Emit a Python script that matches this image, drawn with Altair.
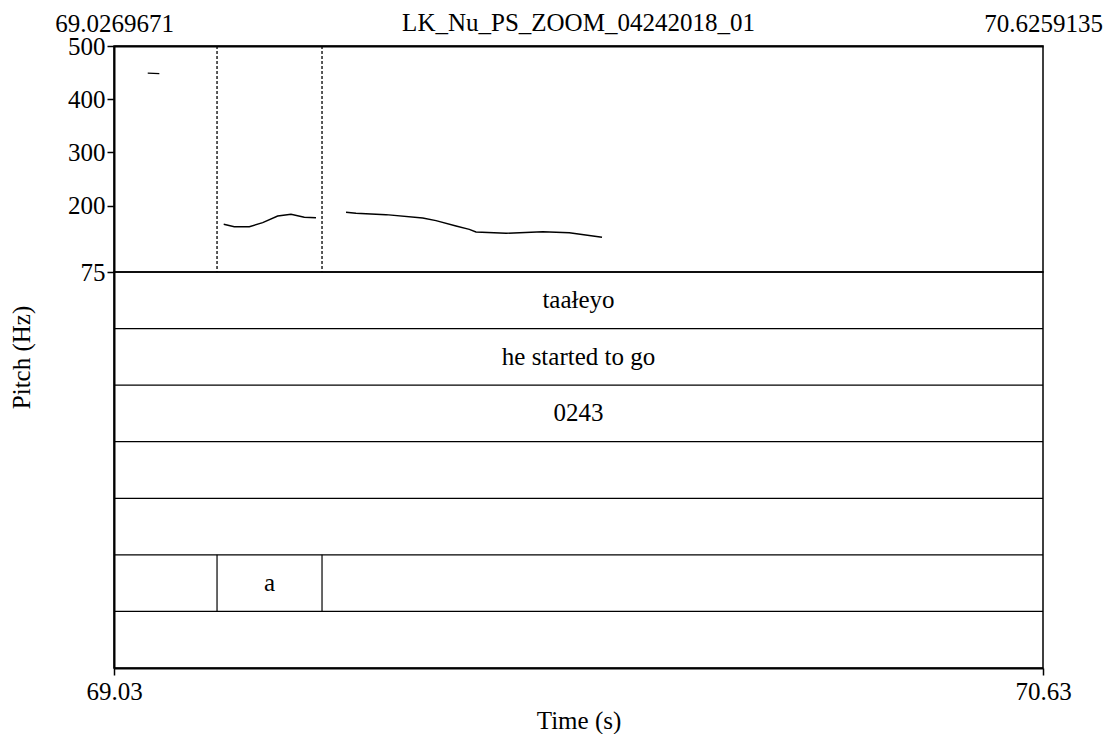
import altair as alt
import pandas as pd

FONT = "Liberation Serif"
FS = 25

T_START = 69.0269671
T_END = 70.6259135
TITLE = "LK_Nu_PS_ZOOM_04242018_01"

# Pitch contour (three voiced stretches)
seg_id = [1, 1,
          2, 2, 2, 2, 2, 2, 2, 2,
          3, 3, 3, 3, 3, 3, 3, 3, 3, 3, 3, 3]
pitch_time = [69.0850, 69.1050,
              69.2158, 69.2340, 69.2599, 69.2829, 69.3087, 69.3316, 69.3545, 69.3746,
              69.4263, 69.4435, 69.4951, 69.5583, 69.5812, 69.6156, 69.6385, 69.6500,
              69.7017, 69.7648, 69.8106, 69.8669]
pitch_hz = [449, 448,
            164.7, 160.2, 160.2, 167.7, 180.3, 183.5, 177.9, 177.1,
            187.3, 185.4, 182.8, 176.6, 171.5, 161.5, 155.3, 150.2,
            147.8, 150.8, 148.9, 140.3]

# Interval boundaries of the "a" interval
boundary_times = [69.2043, 69.3850]

# TextGrid tiers (7 tiers, top to bottom)
n_tiers = 7
tier_index = [0, 1, 2, 5, 5, 5]
tier_start = [T_START, T_START, T_START, T_START, 69.2043, 69.3850]
tier_end = [T_END, T_END, T_END, 69.2043, 69.3850, T_END]
tier_text = ["taałeyo", "he started to go", "0243", "", "a", ""]

pitch_df = pd.DataFrame({"seg": seg_id, "t": pitch_time, "hz": pitch_hz})
bound_df = pd.DataFrame({"t": boundary_times})
iv_df = pd.DataFrame({"tier": tier_index, "start": tier_start, "end": tier_end, "label": tier_text})
iv_df["mid"] = (iv_df["start"] + iv_df["end"]) / 2
iv_df["ymid"] = iv_df["tier"] + 0.5
iv_df["y2"] = iv_df["tier"] + 1
inner_df = iv_df[iv_df["start"] > T_START].copy()
lines_df = pd.DataFrame({"y": list(range(1, n_tiers))})

W = 929
H_PITCH = 226
H_TIERS = 396

xscale = alt.Scale(domain=[T_START, T_END], nice=False, zero=False)
top_axis = alt.Axis(orient="top", values=[T_START, T_END], format=".7f", tickSize=0,
                    labelPadding=10, title=None, domainWidth=2, labelFlush=False)
yscale_p = alt.Scale(domain=[75, 500], nice=False, zero=False)
y_axis_p = alt.Axis(values=[75, 200, 300, 400, 500], tickSize=7, tickWidth=1.5,
                    labelPadding=2, title=None, domainWidth=2)

pitch_line = alt.Chart(pitch_df).mark_line(color="black", strokeWidth=1.4).encode(
    x=alt.X("t:Q", scale=xscale, axis=top_axis),
    y=alt.Y("hz:Q", scale=yscale_p, axis=y_axis_p),
    detail="seg:N",
)
dashes = alt.Chart(bound_df).mark_rule(color="black", strokeDash=[3, 2], strokeWidth=1.3).encode(
    x=alt.X("t:Q", scale=xscale, axis=top_axis),
)
top = alt.layer(pitch_line, dashes).properties(
    width=W, height=H_PITCH,
    title=alt.Title(TITLE, offset=-25, anchor="middle", frame="group"),
)

x_bottom = alt.Axis(values=[T_START, T_END], format=".2f", tickSize=7, tickWidth=1.5,
                    labelPadding=4, title="Time (s)", titlePadding=4, domainWidth=2,
                    labelFlush=False)
yscale_t = alt.Scale(domain=[0, n_tiers], reverse=True, nice=False, zero=False)
y_axis_t = alt.Axis(labels=False, ticks=False, title="Pitch (Hz)", titleY=85,
                    titlePadding=80, domainWidth=2, grid=False)

tier_lines = alt.Chart(lines_df).mark_rule(color="black", strokeWidth=1.2).encode(
    y=alt.Y("y:Q", scale=yscale_t, axis=y_axis_t),
)
inner = alt.Chart(inner_df).mark_rule(color="black", strokeWidth=1.2).encode(
    x=alt.X("start:Q", scale=xscale, axis=x_bottom),
    y=alt.Y("tier:Q", scale=yscale_t, axis=y_axis_t),
    y2="y2:Q",
)
texts = alt.Chart(iv_df).mark_text(font=FONT, fontSize=FS, color="black", baseline="middle").encode(
    x=alt.X("mid:Q", scale=xscale, axis=x_bottom),
    y=alt.Y("ymid:Q", scale=yscale_t, axis=y_axis_t),
    text="label:N",
)
bottom = alt.layer(tier_lines, inner, texts).properties(width=W, height=H_TIERS)

chart = alt.vconcat(top, bottom, spacing=0, bounds="flush").properties(
    padding={"left": 0, "top": 2, "right": 0, "bottom": 0}
).configure_view(
    stroke="black", strokeWidth=1.5
).configure_axis(
    labelFont=FONT, titleFont=FONT, labelFontSize=FS, titleFontSize=FS,
    labelColor="black", titleColor="black", domainColor="black", tickColor="black",
    grid=False, titleFontWeight="normal",
).configure_title(
    font=FONT, fontSize=FS, fontWeight="normal", color="black",
)

chart.save("out.html", embed_options={"renderer": "svg", "actions": False})
